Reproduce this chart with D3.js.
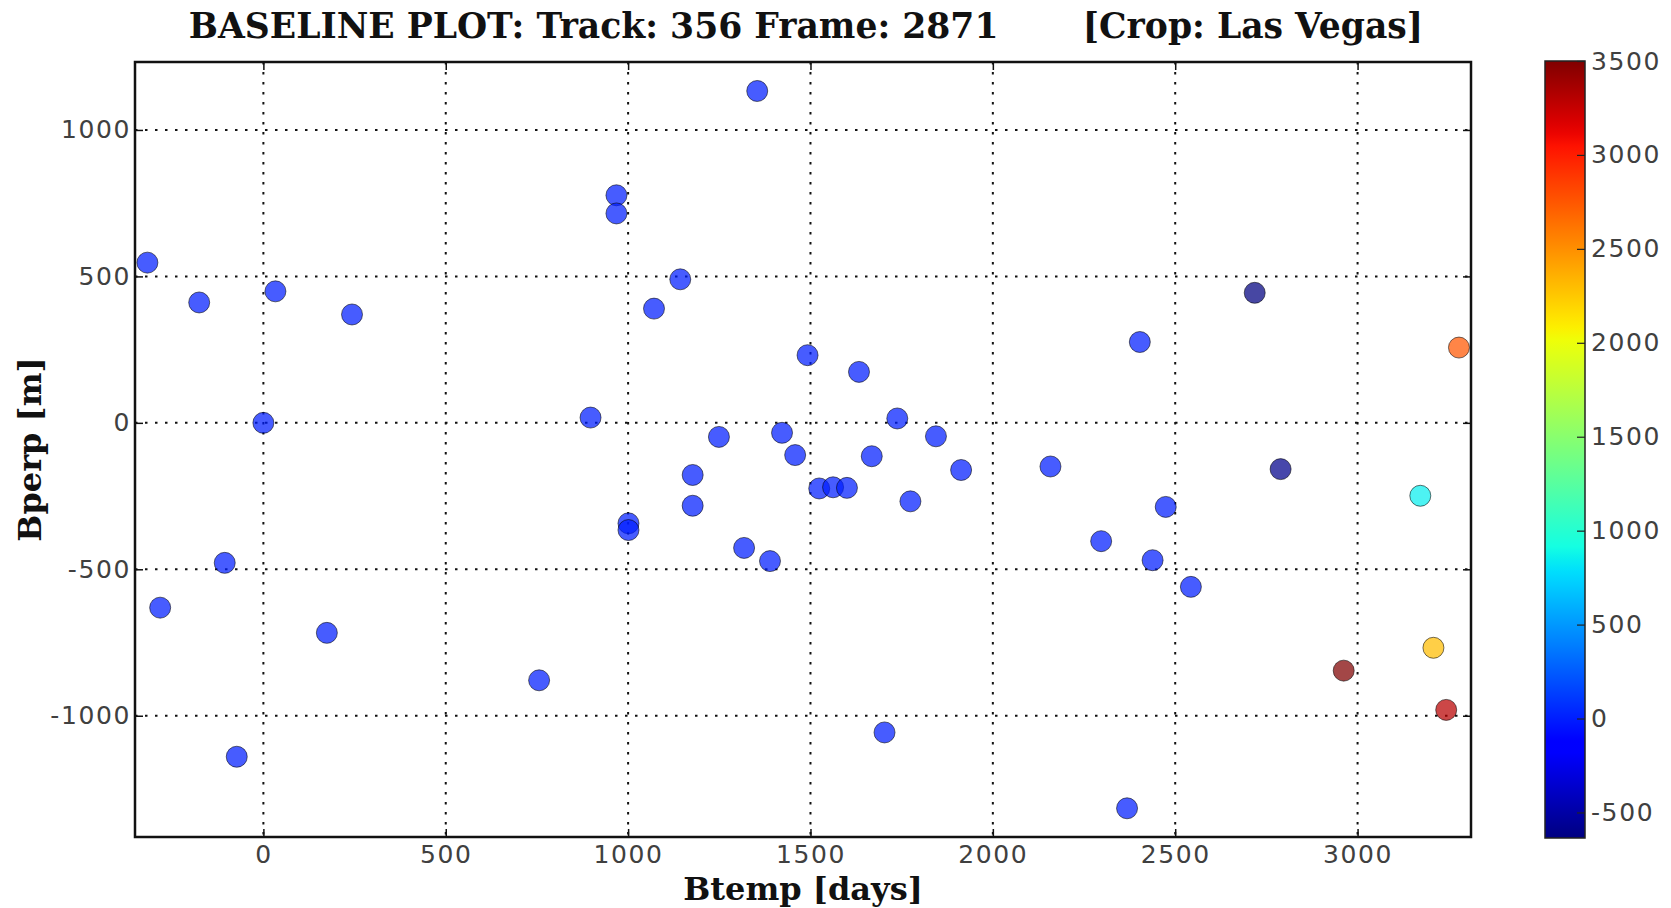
<!DOCTYPE html>
<html>
<head>
<meta charset="utf-8">
<script src="https://cdn.jsdelivr.net/npm/d3@7"></script>
<style>
	html, body { margin: 0; padding: 0; background: #fff; }
	svg { display: block; }
	.tick-label { font-family: "DejaVu Sans", sans-serif; font-size: 25px; letter-spacing: 1.6px; fill: #404040; }
	.serif-bold { font-family: "DejaVu Serif", serif; font-weight: bold; fill: #111; }
</style>
</head>
<body>
<svg id="chart" width="1671" height="908"></svg>
<script>
// data: temporal baseline [days], perpendicular baseline [m], colour value
var btemp = [-318, -283, -176, -106, -73, 0, 33, 174, 243, 756,
	897, 968, 968, 1001, 1001, 1071, 1143, 1177, 1177, 1249,
	1318, 1354, 1389, 1422, 1458, 1492, 1524, 1562, 1600, 1633,
	1668, 1703, 1738, 1774, 1844, 1913, 2158, 2297, 2368, 2403,
	2438, 2474, 2543, 2718, 2789, 2962, 3172, 3208, 3243, 3278];
var bperp = [547, -631, 411, -478, -1140, 0, 449, -717, 370, -879,
	18, 777, 715, -343, -366, 390, 490, -178, -283, -48,
	-427, 1133, -472, -34, -110, 231, -224, -220, -222, 174,
	-114, -1057, 15, -268, -46, -161, -149, -404, -1316, 276,
	-469, -287, -560, 444, -158, -846, -249, -768, -980, 257];
var cval = [0, 0, 0, 0, 0, 0, 0, 0, 0, 0,
	0, 0, 0, 0, 0, 0, 0, 0, 0, 0,
	0, 0, 0, 0, 0, 0, 0, 0, 0, 0,
	0, 0, 0, 0, 0, 0, 0, 0, 0, 0,
	0, 0, 0, -636, -600, 3500, 850, 2300, 3300, 2750];

var xTicks = [0, 500, 1000, 1500, 2000, 2500, 3000];
var yTicks = [-1000, -500, 0, 500, 1000];
var cTicks = [-500, 0, 500, 1000, 1500, 2000, 2500, 3000, 3500];
var xDomain = [-352, 3311];
var yDomain = [-1414, 1232];
var cDomain = [-636, 3500];

var titleText = "BASELINE PLOT: Track: 356 Frame: 2871       [Crop: Las Vegas]";
var xLabel = "Btemp [days]";
var yLabel = "Bperp [m]";

// layout
var plot = {left: 135, right: 1471, top: 62, bottom: 837};
var cbar = {left: 1545, right: 1585, top: 61, bottom: 838};

var svg = d3.select("#chart");

var x = d3.scaleLinear().domain(xDomain).range([plot.left, plot.right]);
var y = d3.scaleLinear().domain(yDomain).range([plot.bottom, plot.top]);
var cScale = d3.scaleLinear().domain(cDomain).range([0, 1]).clamp(true);
var cy = d3.scaleLinear().domain(cDomain).range([cbar.bottom, cbar.top]);

// matplotlib "jet"
var jetR = d3.scaleLinear().domain([0, 0.35, 0.66, 0.89, 1]).range([0, 0, 1, 1, 0.5]).clamp(true);
var jetG = d3.scaleLinear().domain([0, 0.125, 0.375, 0.64, 0.91, 1]).range([0, 0, 1, 1, 0, 0]).clamp(true);
var jetB = d3.scaleLinear().domain([0, 0.11, 0.34, 0.65, 1]).range([0.5, 1, 1, 0, 0]).clamp(true);
function jet(t) {
	return d3.rgb(jetR(t) * 255, jetG(t) * 255, jetB(t) * 255).formatHex();
}

// grid
var grid = svg.append("g").attr("class", "grid")
	.attr("stroke", "#111").attr("stroke-width", 2).attr("stroke-dasharray", "2.5,7.5");
grid.selectAll("line.gx").data(xTicks).enter().append("line")
	.attr("class", "gx")
	.attr("x1", d => x(d)).attr("x2", d => x(d))
	.attr("y1", plot.top).attr("y2", plot.bottom);
grid.selectAll("line.gy").data(yTicks).enter().append("line")
	.attr("class", "gy")
	.attr("y1", d => y(d)).attr("y2", d => y(d))
	.attr("x1", plot.left).attr("x2", plot.right);

// axes with inward ticks on all four sides
var tickLen = 8;
var fmt = d => String(d);
svg.append("g").attr("transform", "translate(0," + plot.bottom + ")")
	.call(d3.axisBottom(x).tickValues(xTicks).tickSize(-tickLen).tickPadding(8).tickFormat(fmt));
svg.append("g").attr("transform", "translate(0," + plot.top + ")")
	.call(d3.axisTop(x).tickValues(xTicks).tickSize(-tickLen).tickFormat(""));
svg.append("g").attr("transform", "translate(" + plot.left + ",0)")
	.call(d3.axisLeft(y).tickValues(yTicks).tickSize(-tickLen).tickPadding(4).tickFormat(fmt));
svg.append("g").attr("transform", "translate(" + plot.right + ",0)")
	.call(d3.axisRight(y).tickValues(yTicks).tickSize(-tickLen).tickFormat(""));
svg.selectAll(".domain").remove();
svg.selectAll(".tick line").attr("stroke", "#111").attr("stroke-width", 1.5);
svg.selectAll(".tick text").attr("class", "tick-label").attr("fill", null);

// points
var pts = btemp.map((b, i) => ({b: b, p: bperp[i], c: cval[i]}));
svg.append("g").selectAll("circle").data(pts).enter().append("circle")
	.attr("cx", d => x(d.b))
	.attr("cy", d => y(d.p))
	.attr("r", 10.5)
	.attr("fill", d => jet(cScale(d.c)))
	.attr("fill-opacity", 0.72)
	.attr("stroke", "#000")
	.attr("stroke-opacity", 0.55)
	.attr("stroke-width", 1);

// frame
svg.append("rect")
	.attr("x", plot.left).attr("y", plot.top)
	.attr("width", plot.right - plot.left).attr("height", plot.bottom - plot.top)
	.attr("fill", "none").attr("stroke", "#111").attr("stroke-width", 2.5);

// colorbar
var grad = svg.append("defs").append("linearGradient")
	.attr("id", "jetGrad").attr("x1", 0).attr("y1", 1).attr("x2", 0).attr("y2", 0);
grad.selectAll("stop").data(d3.range(0, 1.0001, 1 / 64)).enter().append("stop")
	.attr("offset", d => d)
	.attr("stop-color", d => jet(d));
svg.append("rect")
	.attr("x", cbar.left).attr("y", cbar.top)
	.attr("width", cbar.right - cbar.left).attr("height", cbar.bottom - cbar.top)
	.attr("fill", "url(#jetGrad)").attr("stroke", "#222").attr("stroke-width", 1.5);
var cAxis = svg.append("g").attr("transform", "translate(" + cbar.right + ",0)")
	.call(d3.axisRight(cy).tickValues(cTicks).tickSize(-8).tickPadding(6).tickFormat(fmt));
cAxis.select(".domain").remove();
cAxis.selectAll(".tick line").attr("stroke", "#222").attr("stroke-width", 1.2);
cAxis.selectAll(".tick text").attr("class", "tick-label").attr("fill", null);

// texts
svg.append("text").attr("class", "serif-bold")
	.attr("x", (plot.left + plot.right) / 2 + 3).attr("y", 38)
	.attr("text-anchor", "middle").attr("font-size", 34.6)
	.style("white-space", "pre")
	.text(titleText);
svg.append("text").attr("class", "serif-bold")
	.attr("x", (plot.left + plot.right) / 2).attr("y", 900)
	.attr("text-anchor", "middle").attr("font-size", 32)
	.text(xLabel);
svg.append("text").attr("class", "serif-bold")
	.attr("transform", "translate(41," + ((plot.top + plot.bottom) / 2) + ") rotate(-90)")
	.attr("text-anchor", "middle").attr("font-size", 32)
	.text(yLabel);
</script>
</body>
</html>
